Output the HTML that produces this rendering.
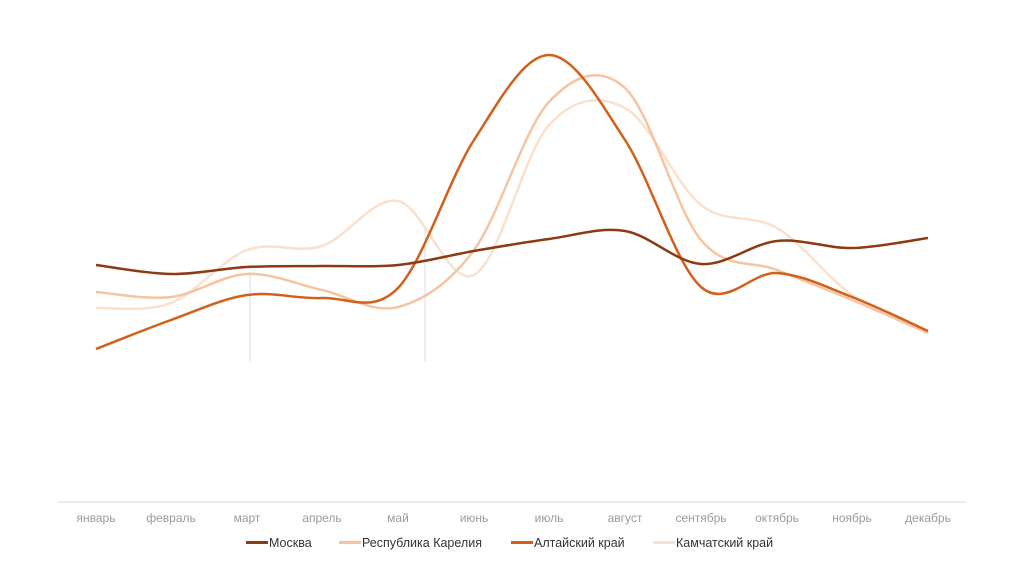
<!DOCTYPE html>
<html><head><meta charset="utf-8"><style>
body{margin:0;background:#fff;width:1024px;height:576px;overflow:hidden}
text{font-family:"Liberation Sans",sans-serif}
</style></head><body>
<svg id="s" width="1024" height="576" xmlns="http://www.w3.org/2000/svg">
<line x1="58" y1="502" x2="966" y2="502" stroke="#e6e6e6" stroke-width="1.5"/>
<line x1="250" y1="272" x2="250" y2="362" stroke="#ddd" stroke-width="1"/>
<line x1="425" y1="228" x2="425" y2="362" stroke="#ddd" stroke-width="1"/>
<g font-size="12" fill="#9a9a9a" text-anchor="middle">
<text x="96" y="522">январь</text><text x="171" y="522">февраль</text><text x="247" y="522">март</text><text x="322" y="522">апрель</text><text x="398" y="522">май</text><text x="474" y="522">июнь</text><text x="549" y="522">июль</text><text x="625" y="522">август</text><text x="701" y="522">сентябрь</text><text x="777" y="522">октябрь</text><text x="852" y="522">ноябрь</text><text x="928" y="522">декабрь</text>
</g>
<g font-size="12.5" fill="#333">
<rect x="246" y="541" width="22" height="3" fill="#8B3A12"/><text x="269" y="547">Москва</text>
<rect x="339" y="541" width="22" height="3" fill="#F5C4A0"/><text x="362" y="547">Республика Карелия</text>
<rect x="511" y="541" width="22" height="3" fill="#D2601A"/><text x="534" y="547">Алтайский край</text>
<rect x="653" y="541" width="22" height="3" fill="#FBE0CC"/><text x="676" y="547">Камчатский край</text>
</g>
<g id="g" fill="none" stroke-width="2.5"></g>
</svg>
<script>
const xs=[96,171,247,322,398,474,549,625,701,777,852,928];
const S=[
["#FBE0CC",[308,303,250,246,201,275,125,108,205,228,295,333]],
["#F5C4A0",[292,297,274,290,307,250,102,88,240,270,300,333]],
["#D2601A",[349,320,295,298,288,140,55,140,287,273,297,331]],
["#8B3A12",[265,274,267,266,265,251,239,231,264,241,248,238]]];
let h="";
for(const [c,y] of S){
 let d=`M${xs[0]},${y[0]}`;
 for(let i=0;i<11;i++){
  const p0=[xs[Math.max(i-1,0)],y[Math.max(i-1,0)]],p1=[xs[i],y[i]],p2=[xs[i+1],y[i+1]],p3=[xs[Math.min(i+2,11)],y[Math.min(i+2,11)]];
  const t=6;
  d+=` C${p1[0]+(p2[0]-p0[0])/t},${p1[1]+(p2[1]-p0[1])/t} ${p2[0]-(p3[0]-p1[0])/t},${p2[1]-(p3[1]-p1[1])/t} ${p2[0]},${p2[1]}`;
 }
 h+=`<path d="${d}" stroke="${c}"/>`;
}
document.getElementById("g").innerHTML=h;
</script>
</body></html>
